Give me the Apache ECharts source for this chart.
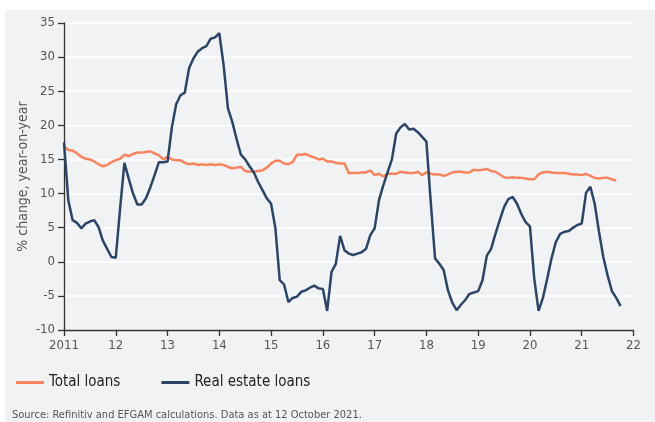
<!DOCTYPE html>
<html>
<head>
<meta charset="utf-8">
<script src="https://cdn.jsdelivr.net/npm/echarts@6/dist/echarts.min.js"></script>
<style>
html,body{margin:0;padding:0;background:#fff;}
#c{width:655px;height:422px;}
</style>
</head>
<body>
<div id="c"></div>
<script>
const startYear = 2011;
const xTickLabels = ['2011','12','13','14','15','16','17','18','19','20','21','22'];
const totalLoans = [16.9,16.4,16.3,15.9,15.4,15.1,15.0,14.7,14.3,14.0,14.2,14.6,
14.9,15.1,15.7,15.5,15.8,16.0,16.0,16.1,16.2,15.9,15.6,15.0,
15.4,15.0,14.9,14.9,14.5,14.3,14.4,14.2,14.3,14.2,14.3,14.2,
14.3,14.2,13.9,13.7,13.8,13.9,13.3,13.2,13.2,13.3,13.4,13.8,
14.4,14.8,14.8,14.4,14.3,14.6,15.7,15.7,15.8,15.5,15.3,15.0,
15.1,14.7,14.7,14.5,14.4,14.4,13.0,13.0,13.0,13.1,13.1,13.4,
12.7,12.9,12.5,12.9,12.9,12.9,13.2,13.1,13.0,13.0,13.2,12.7,
13.1,12.9,12.8,12.8,12.6,12.8,13.1,13.2,13.2,13.1,13.1,13.5,
13.4,13.5,13.6,13.3,13.2,12.8,12.4,12.3,12.4,12.3,12.3,12.2,
12.1,12.1,12.8,13.1,13.2,13.1,13.0,13.0,13.0,12.9,12.8,12.8,
12.7,12.9,12.6,12.3,12.2,12.3,12.3,12.1,11.9];
const realEstateLoans = [17.5,9.0,6.1,5.7,4.9,5.6,5.9,6.1,5.1,3.1,1.9,0.7,
0.6,7.8,14.5,12.2,10.0,8.4,8.4,9.3,10.9,12.7,14.6,14.6,
14.7,19.7,23.1,24.4,24.8,28.4,29.8,30.8,31.3,31.6,32.7,32.9,
33.5,28.8,22.5,20.5,18.0,15.7,15.0,14.0,13.1,11.7,10.5,9.3,
8.5,4.9,-2.7,-3.3,-5.9,-5.3,-5.1,-4.4,-4.2,-3.8,-3.5,-3.9,
-4.0,-7.2,-1.5,-0.3,3.8,1.7,1.2,1.0,1.2,1.4,1.9,3.9,
4.9,9.0,11.2,13.1,15.0,18.8,19.7,20.2,19.4,19.5,19.0,18.3,
17.6,8.8,0.5,-0.3,-1.2,-4.2,-6.0,-7.1,-6.3,-5.6,-4.7,-4.5,
-4.3,-2.7,0.9,1.9,4.1,6.1,8.0,9.2,9.5,8.5,7.0,5.8,
5.2,-2.5,-7.2,-5.3,-2.5,0.5,2.9,4.1,4.4,4.5,5.0,5.4,
5.6,10.1,11.0,8.5,4.4,0.7,-2.0,-4.3,-5.3,-6.5];
const seriesNames = ['Total loans','Real estate loans'];
const yAxisTitle = '% change, year-on-year';
const sourceNote = 'Source: Refinitiv and EFGAM calculations. Data as at 12 October 2021.';

const FONT = '"Liberation Sans Narrow","DejaVu Sans Condensed",Roboto,sans-serif';
const toXY = arr => arr.map((v,i)=>[startYear + i/12, v]);

const chart = echarts.init(document.getElementById('c'), null, {renderer:'canvas'});
chart.setOption({
  animation:false,
  textStyle:{fontFamily:FONT},
  graphic:[
    {type:'rect', left:5, top:10, z:-10, shape:{width:650,height:412}, style:{fill:'#f1f2f4'}},
    {type:'text', left:12, top:410, style:{text:sourceNote, fill:'#555', font:'11px '+FONT}}
  ],
  grid:{left:64, right:21.5, top:23, bottom:92, containLabel:false},
  legend:{
    left:16, top:375, padding:0, itemGap:41, itemWidth:28, itemHeight:3, icon:'rect',
    textStyle:{fontSize:15, color:'#222', fontFamily:FONT},
    data:seriesNames
  },
  xAxis:{
    type:'value', min:2011, max:2022, interval:1,
    axisLine:{onZero:false, lineStyle:{color:'#333', width:1.3}},
    axisTick:{show:true, length:6, lineStyle:{color:'#333', width:1.3}},
    axisLabel:{fontSize:13, color:'#555', margin:9, fontFamily:FONT,
      formatter:v=>xTickLabels[Math.round(v-startYear)]},
    splitLine:{show:false}
  },
  yAxis:{
    type:'value', min:-10, max:35, interval:5,
    name:yAxisTitle, nameLocation:'middle', nameGap:34, nameRotate:90, nameMoveOverlap:false,
    nameTextStyle:{fontSize:14, color:'#555', fontFamily:FONT},
    axisLine:{show:true, lineStyle:{color:'#333', width:1.3}},
    axisTick:{show:true, length:6, lineStyle:{color:'#333', width:1.3}},
    axisLabel:{fontSize:13, color:'#555', margin:9, fontFamily:FONT},
    splitLine:{show:true, lineStyle:{color:'#ffffff', width:1.5}}
  },
  series:[
    {name:seriesNames[0], type:'line', data:toXY(totalLoans), showSymbol:false, symbol:'none',
     lineStyle:{color:'#f7845e', width:2.5}, itemStyle:{color:'#f7845e'}, z:2},
    {name:seriesNames[1], type:'line', data:toXY(realEstateLoans), showSymbol:false, symbol:'none',
     lineStyle:{color:'#2c4566', width:2.5}, itemStyle:{color:'#2c4566'}, z:3}
  ]
});
</script>
</body>
</html>
